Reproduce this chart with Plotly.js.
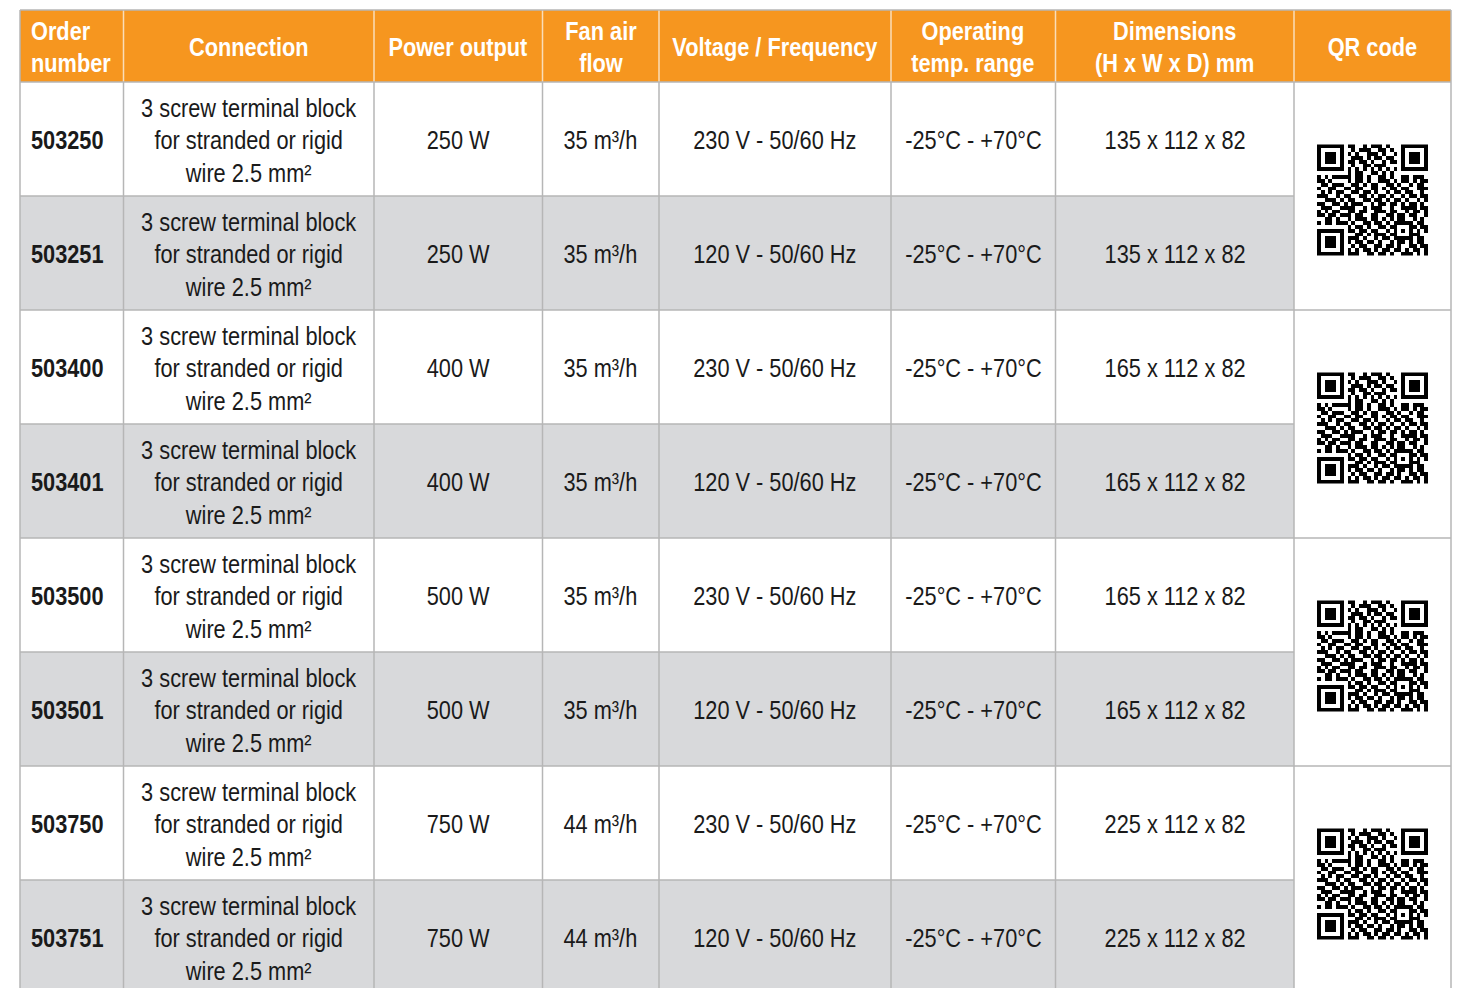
<!DOCTYPE html>
<html>
<head>
<meta charset="utf-8">
<script src="https://cdn.plot.ly/plotly-3.0.1.min.js"></script>
<style>html,body{margin:0;padding:0;background:#fff;}#chart{width:1462px;height:988px;}</style>
</head>
<body>
<div id="chart"></div>
<script>
// ---------- DATA ----------
const headers = ['Order<br>number', 'Connection', 'Power output', 'Fan air<br>flow', 'Voltage / Frequency', 'Operating<br>temp. range', 'Dimensions<br>(H x W x D) mm', 'QR code'];
const orderNumbers = ['503250', '503251', '503400', '503401', '503500', '503501', '503750', '503751'];
const connection = [
  '3 screw terminal block<br>for stranded or rigid<br>wire 2.5 mm²',
  '3 screw terminal block<br>for stranded or rigid<br>wire 2.5 mm²',
  '3 screw terminal block<br>for stranded or rigid<br>wire 2.5 mm²',
  '3 screw terminal block<br>for stranded or rigid<br>wire 2.5 mm²',
  '3 screw terminal block<br>for stranded or rigid<br>wire 2.5 mm²',
  '3 screw terminal block<br>for stranded or rigid<br>wire 2.5 mm²',
  '3 screw terminal block<br>for stranded or rigid<br>wire 2.5 mm²',
  '3 screw terminal block<br>for stranded or rigid<br>wire 2.5 mm²'
];
const powerOutput = ['250 W', '250 W', '400 W', '400 W', '500 W', '500 W', '750 W', '750 W'];
const fanAirFlow = ['35 m³/h', '35 m³/h', '35 m³/h', '35 m³/h', '35 m³/h', '35 m³/h', '44 m³/h', '44 m³/h'];
const voltageFrequency = ['230 V - 50/60 Hz', '120 V - 50/60 Hz', '230 V - 50/60 Hz', '120 V - 50/60 Hz', '230 V - 50/60 Hz', '120 V - 50/60 Hz', '230 V - 50/60 Hz', '120 V - 50/60 Hz'];
const tempRange = ['-25°C - +70°C', '-25°C - +70°C', '-25°C - +70°C', '-25°C - +70°C', '-25°C - +70°C', '-25°C - +70°C', '-25°C - +70°C', '-25°C - +70°C'];
const dimensions = ['135 x 112 x 82', '135 x 112 x 82', '165 x 112 x 82', '165 x 112 x 82', '165 x 112 x 82', '165 x 112 x 82', '225 x 112 x 82', '225 x 112 x 82'];
// QR code modules (approximate reading, 29 x 29, 1 = dark), one code per pair of rows
const qrRows = [
  '11111110110010111010001111111',
  '10000010010111001101001000001',
  '10111010101001110100101011101',
  '10111010011101011011001011101',
  '10111010110110100101101011101',
  '10000010010011011100001000001',
  '11111110101010101010101111111',
  '00000000101100110101000000000',
  '10101111101101001101001101110',
  '11010000101101001110101101011',
  '01101110011010110011010010110',
  '10011001101100110101101100111',
  '01010110011011010010110110010',
  '11100101100110101101001011011',
  '00111010110011011010110100101',
  '11001101011100101101101011010',
  '01110011110010111001001111011',
  '10101100110110011101100101101',
  '11011011101100110011011011001',
  '00110100101110110101011001010',
  '10110111010011011010111110110',
  '00000000101101001101100011011',
  '11111110110110110010101010101',
  '10000010001101011101100011100',
  '10111010111010010110111110110',
  '10111010101101101001011010110',
  '10111010010110011011010011011',
  '10000010101011010110110101101',
  '11111110111001101101001110101'
];
const qrCodes = ['qr-503250', 'qr-503400', 'qr-503500', 'qr-503750'];

// ---------- LAYOUT CONSTANTS ----------
const W = 1462, H = 988;
const colEdges = [20, 123.5, 374, 542.5, 659, 891, 1055.5, 1294, 1451];
const headerTop = 10, headerBottom = 82, rowH = 114;
const ORANGE = '#F6961F', GRAY_FILL = '#D8D9DB', LINE = '#B6B6B6', HEAD_LINE = '#FADDB8';
const FONT = '"Liberation Sans", Arimo, Arial, sans-serif';
const FONT_SIZE = 25, NARROW = 0.87;
const qrSize = 111, qrOffsetY = 4;

const shapes = [];
const annotations = [];
const nRows = orderNumbers.length;
const xL = colEdges[0], xR = colEdges[colEdges.length - 1], xQ = colEdges[colEdges.length - 2];
const bottom = headerBottom + nRows * rowH;

// header background
shapes.push({type: 'rect', xref: 'x', yref: 'y', x0: xL, x1: xR, y0: headerTop, y1: headerBottom, fillcolor: ORANGE, line: {width: 0}, layer: 'below'});
// body row fills
for (let i = 0; i < nRows; i++) {
  const y0 = headerBottom + i * rowH;
  shapes.push({type: 'rect', xref: 'x', yref: 'y', x0: xL, x1: xQ, y0: y0, y1: y0 + rowH,
    fillcolor: i % 2 ? GRAY_FILL : '#FFFFFF', line: {width: 0}, layer: 'below'});
}
// header separators
for (let c = 1; c < colEdges.length - 1; c++) {
  shapes.push({type: 'line', xref: 'x', yref: 'y', x0: colEdges[c], x1: colEdges[c], y0: headerTop, y1: headerBottom, line: {color: HEAD_LINE, width: 1.5}, layer: 'below'});
}
// body vertical lines
for (let c = 0; c < colEdges.length; c++) {
  shapes.push({type: 'line', xref: 'x', yref: 'y', x0: colEdges[c], x1: colEdges[c], y0: (c === 0 || c === colEdges.length - 1) ? headerTop : headerBottom, y1: bottom + 10, line: {color: LINE, width: 1.5}, layer: 'below'});
}
// horizontal lines
shapes.push({type: 'line', xref: 'x', yref: 'y', x0: xL, x1: xR, y0: headerTop, y1: headerTop, line: {color: LINE, width: 1.5}, layer: 'below'});
shapes.push({type: 'line', xref: 'x', yref: 'y', x0: xL, x1: xR, y0: headerBottom, y1: headerBottom, line: {color: LINE, width: 1.5}, layer: 'below'});
for (let i = 1; i <= nRows; i++) {
  const y = headerBottom + i * rowH;
  shapes.push({type: 'line', xref: 'x', yref: 'y', x0: xL, x1: (i % 2 === 0) ? xR : xQ, y0: y, y1: y, line: {color: LINE, width: 1.5}, layer: 'below'});
}

// header texts
headers.forEach((h, c) => {
  const left = c === 0;
  annotations.push({xref: 'x', yref: 'y', x: left ? colEdges[0] + 9 : (colEdges[c] + colEdges[c + 1]) / 2,
    y: (headerTop + headerBottom) / 2 + 1, text: h, showarrow: false, xanchor: left ? 'left' : 'center', yanchor: 'middle',
    align: left ? 'left' : 'center', font: {family: FONT, size: FONT_SIZE, color: '#FFFFFF', weight: 'bold'}});
});

// body texts
const bodyCols = [orderNumbers, connection, powerOutput, fanAirFlow, voltageFrequency, tempRange, dimensions];
bodyCols.forEach((col, c) => {
  col.forEach((txt, i) => {
    const yc = headerBottom + i * rowH + rowH / 2 + 1;
    const left = c === 0;
    annotations.push({xref: 'x', yref: 'y', x: left ? colEdges[0] + 9 : (colEdges[c] + colEdges[c + 1]) / 2,
      y: yc, text: txt, showarrow: false, xanchor: left ? 'left' : 'center', yanchor: 'middle', align: 'center',
      font: {family: FONT, size: FONT_SIZE, color: '#1A1A1A', weight: left ? 'bold' : 'normal'}});
  });
});

// QR codes as heatmaps
const n = qrRows.length;
const ms = qrSize / n;
const z = qrRows.map(r => r.split('').map(ch => ch === '1' ? 1 : null));
const traces = qrCodes.map((name, k) => {
  const pairTop = headerBottom + k * 2 * rowH;
  const top = pairTop + (2 * rowH - qrSize) / 2 + qrOffsetY;
  const left = (xQ + xR) / 2 - qrSize / 2;
  return {type: 'heatmap', name: name, z: z, x0: left + ms / 2, dx: ms, y0: top + ms / 2, dy: ms,
    colorscale: [[0, '#000000'], [1, '#000000']], showscale: false, zsmooth: false, hoverinfo: 'skip', zmin: 0, zmax: 1};
});

const layout = {
  width: W, height: H, margin: {l: 0, r: 0, t: 0, b: 0},
  paper_bgcolor: '#FFFFFF', plot_bgcolor: '#FFFFFF', showlegend: false,
  xaxis: {range: [0, W], visible: false, fixedrange: true},
  yaxis: {range: [H, 0], visible: false, fixedrange: true},
  shapes: shapes, annotations: annotations
};
Plotly.newPlot('chart', traces, layout, {staticPlot: true, displayModeBar: false}).then(gd => {
  // emulate the condensed typeface of the original by narrowing the text horizontally
  gd.querySelectorAll('g.annotation').forEach(g => {
    const idx = +g.getAttribute('data-index');
    const t = g.querySelector('text.annotation-text');
    if (!t) return;
    const leftAnchored = annotations[idx] && annotations[idx].xanchor === 'left';
    t.style.transformBox = 'fill-box';
    t.style.transformOrigin = leftAnchored ? 'left center' : 'center center';
    t.style.transform = 'scaleX(' + NARROW + ')';
  });
});
</script>
</body>
</html>
